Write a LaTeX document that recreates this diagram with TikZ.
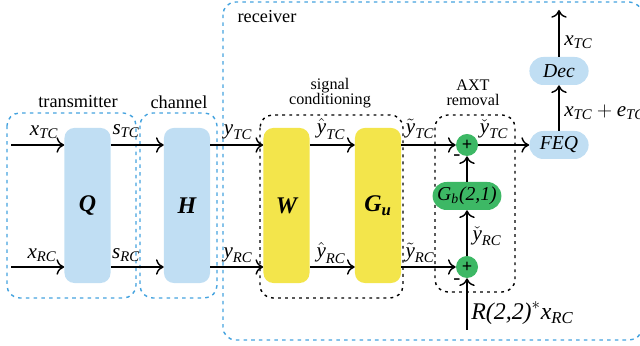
\documentclass[tikz,border=0pt]{standalone}
\usepackage{amsmath}
\usepackage{fontspec}
\setmainfont{Liberation Serif}
\usetikzlibrary{arrows.meta, shapes.misc}

\definecolor{lblue}{HTML}{C0DEF3}
\definecolor{myyellow}{HTML}{F3E54B}
\definecolor{mygreen}{HTML}{3DB865}
\definecolor{dblue}{HTML}{45A3DF}

% italic letters in the labels, in the text font
\newcommand{\tv}[1]{\text{\itshape #1}}
\newcommand{\tb}[1]{\text{\bfseries\itshape #1}}

\tikzset{
  blk/.style={rounded corners=7pt, minimum width=1.15cm, minimum height=3.875cm, inner sep=0pt, font=\fontsize{17}{19}\selectfont},
  pill/.style={rounded rectangle, minimum width=1.55cm, minimum height=0.7cm, inner sep=1pt, font=\fontsize{14}{16}\selectfont\itshape},
  sumnode/.style={circle, fill=mygreen, minimum size=0.55cm, inner sep=0pt, font=\fontsize{13}{15}\selectfont\bfseries},
  arr/.style={-{To[length=5.5pt, width=11pt, line width=1pt]}, line width=1pt},
  grp/.style={draw=dblue, line width=1pt, dash pattern=on 2.5pt off 3pt, rounded corners=9pt},
  sgrp/.style={draw=black, line width=1pt, dash pattern=on 2pt off 3pt, rounded corners=9pt},
  lbl/.style={font=\fontsize{15}{17}\selectfont, inner sep=0pt},
  ttl/.style={font=\fontsize{13}{15}\selectfont, inner sep=0pt},
  sttl/.style={font=\fontsize{11.5}{12.5}\selectfont, align=center, inner sep=0pt},
}

\begin{document}
\begin{tikzpicture}[x=0.025cm, y=-0.025cm]
    \useasboundingbox (0,0) rectangle (640,346);
    % groups
    \draw[grp] (7,113) rectangle (136,298);
    \draw[grp] (140,113) rectangle (217,298);
    \draw[grp] (223,2) rectangle (642,340);
    \draw[sgrp] (260,115) rectangle (403,298);
    \draw[sgrp] (435,115) rectangle (515,292);
    \node[ttl] (ttx) at (78,102) {transmitter};
    \node[ttl] (tch) at (179,102) {channel};
    \node[ttl] (trx) at (267,17) {receiver};
    \node[sttl] (tsc) at (330,93) {signal\\[-2pt]conditioning};
    \node[sttl] (tax) at (473,93) {AXT\\[-2pt]removal};
    % blocks
    \node[blk, fill=lblue] (Q) at (87.5,205.5) {\bfseries\itshape Q};
    \node[blk, fill=lblue] (H) at (187,205.5) {\bfseries\itshape H};
    \node[blk, fill=myyellow] (W) at (286.5,205.5) {\bfseries\itshape W};
    \node[blk, fill=myyellow] (Gu) at (378,205.5) {$\tb{G}_{\tb{u}}$};
    \node[sumnode] (st) at (467,145) {+};
    \node[sumnode] (sr) at (467,267) {+};
    \node[pill, fill=mygreen, minimum width=1.5cm] (Gb) at (467,196) {G\textsubscript{\itshape b}(2,1)};
    \node[pill, fill=lblue] (FEQ) at (559,145) {FEQ};
    \node[pill, fill=lblue] (Dec) at (559,71) {Dec};
    \coordinate (xt) at (11,145);
    \coordinate (xr) at (11,267);
    \coordinate (out) at (559,10);
    \coordinate (rin) at (467,330);
    % arrows
    \draw[arr] (xt) -- (xt -| Q.west);
    \draw[arr] (xr) -- (xr -| Q.west);
    \draw[arr] (Q.east |- xt) -- (H.west |- xt);
    \draw[arr] (Q.east |- xr) -- (H.west |- xr);
    \draw[arr] (H.east |- xt) -- (W.west |- xt);
    \draw[arr] (H.east |- xr) -- (W.west |- xr);
    \draw[arr] (W.east |- xt) -- (Gu.west |- xt);
    \draw[arr] (W.east |- xr) -- (Gu.west |- xr);
    \draw[arr] (Gu.east |- xt) -- (st.west);
    \draw[arr] (Gu.east |- xr) -- (sr.west);
    \draw[arr] (sr.north) -- (Gb.south);
    \draw[arr] (Gb.north) -- (st.south);
    \draw[arr] (rin) -- (sr.south);
    \draw[arr] (st.east) -- (FEQ.west);
    \draw[arr] (FEQ.north) -- (Dec.south);
    \draw[arr] (Dec.north) -- (out);
    % labels
    \node[lbl] (l1) at (44,132) {$\tv{x}_{\tv{TC}}$};
    \node[lbl] (l2) at (42,255) {$\tv{x}_{\tv{RC}}$};
    \node[lbl] (l3) at (126,131) {$\tv{s}_{\tv{TC}}$};
    \node[lbl] (l4) at (126,255) {$\tv{s}_{\tv{RC}}$};
    \node[lbl] (l5) at (238,132) {$\tv{y}_{\tv{TC}}$};
    \node[lbl] (l6) at (238,255) {$\tv{y}_{\tv{RC}}$};
    \node[lbl] (l7) at (331,129) {$\hat{\tv{y}}_{\tv{TC}}$};
    \node[lbl] (l8) at (331,253) {$\hat{\tv{y}}_{\tv{RC}}$};
    \node[lbl] (l9) at (420,129) {$\tilde{\tv{y}}_{\tv{TC}}$};
    \node[lbl] (l10) at (420,253) {$\tilde{\tv{y}}_{\tv{RC}}$};
    \node[lbl] (l11) at (494,129) {$\check{\tv{y}}_{\tv{TC}}$};
    \node[lbl] (l12) at (487,236) {$\check{\tv{y}}_{\tv{RC}}$};
    \node[lbl] (m1) at (457,158) {-};
    \node[lbl] (m2) at (457,282) {-};
    \node[lbl, anchor=west] (l13) at (564,112) {$\tv{x}_{\tv{TC}}+\tv{e}_{\tv{TC}}$};
    \node[lbl, anchor=west] (l14) at (564,42) {$\tv{x}_{\tv{TC}}$};
    \node[lbl, anchor=west, font=\fontsize{17}{19}\selectfont] (l15) at (471,313) {$\tv{R(2,2)}^{*}\tv{x}_{\tv{RC}}$};
\end{tikzpicture}
\end{document}
